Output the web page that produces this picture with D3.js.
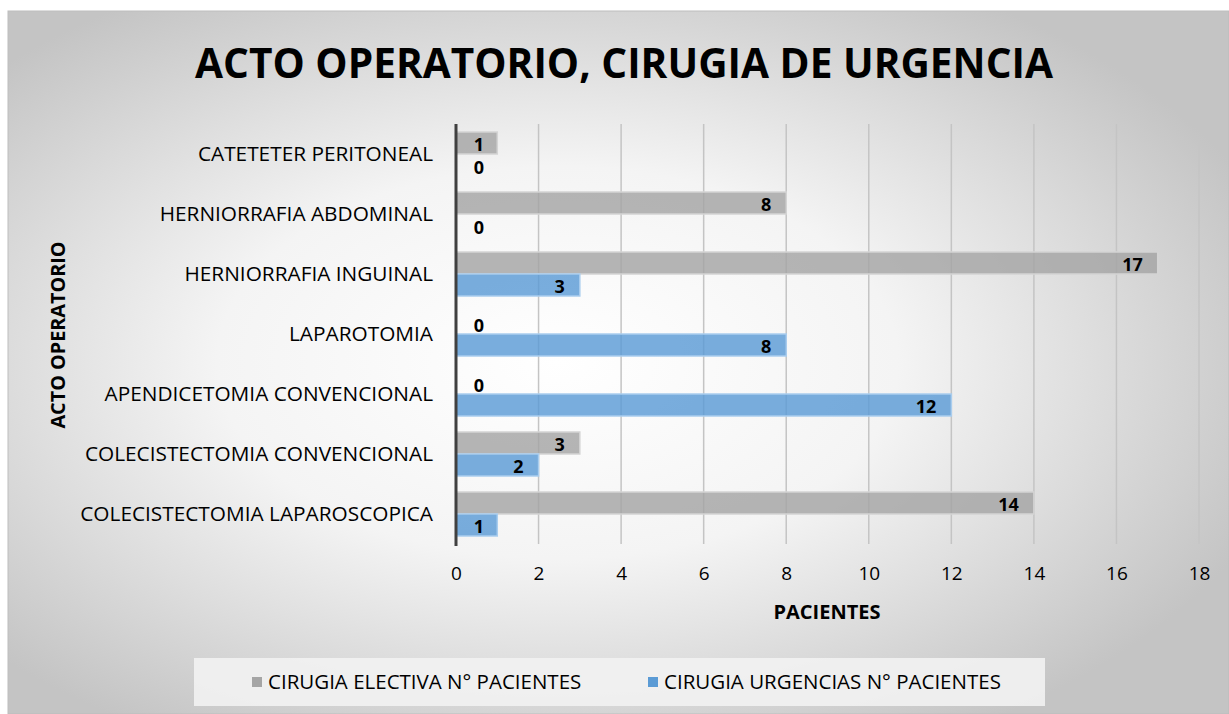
<!DOCTYPE html>
<html>
<head>
<meta charset="utf-8">
<script src="https://cdn.jsdelivr.net/npm/d3@7"></script>
<style>
  body { margin: 0; background: #fff; }
  svg { display: block; font-family: "Open Sans", "Noto Sans", sans-serif; }
</style>
</head>
<body>
<div id="chart"></div>
<script>
// data
var categories = [
  "CATETETER PERITONEAL",
  "HERNIORRAFIA ABDOMINAL",
  "HERNIORRAFIA INGUINAL",
  "LAPAROTOMIA",
  "APENDICETOMIA CONVENCIONAL",
  "COLECISTECTOMIA CONVENCIONAL",
  "COLECISTECTOMIA LAPAROSCOPICA"
];
var electiva  = [1, 8, 17, 0, 0, 3, 14];
var urgencias = [0, 0, 3, 8, 12, 2, 1];
var seriesNames = ["CIRUGIA ELECTIVA N° PACIENTES", "CIRUGIA URGENCIAS N° PACIENTES"];
var xTicks = [0, 2, 4, 6, 8, 10, 12, 14, 16, 18];

var W = 1229, H = 714;
var colors = ["#a5a5a5", "#5b9bd5"];

var svg = d3.select("#chart").append("svg")
    .attr("width", W).attr("height", H);

var defs = svg.append("defs");
var grad = defs.append("radialGradient").attr("id", "bg")
    .attr("cx", "45%").attr("cy", "50%").attr("r", "62%");
grad.append("stop").attr("offset", "0%").attr("stop-color", "#ffffff");
grad.append("stop").attr("offset", "45%").attr("stop-color", "#f4f4f4");
grad.append("stop").attr("offset", "100%").attr("stop-color", "#c4c4c4");

// chart background
svg.append("rect")
    .attr("x", 8).attr("y", 11).attr("width", W - 8).attr("height", H - 11)
    .attr("fill", "url(#bg)")
    .attr("stroke", "#bdbdbd").attr("stroke-width", 1);

// title
svg.append("text")
    .attr("x", 624).attr("y", 78)
    .attr("text-anchor", "middle")
    .attr("font-size", 42).attr("font-weight", "bold")
    .attr("textLength", 858).attr("lengthAdjust", "spacingAndGlyphs")
    .attr("fill", "#000")
    .text("ACTO OPERATORIO, CIRUGIA DE URGENCIA");

var x = d3.scaleLinear().domain([0, 18]).range([456, 1199]);
var y = d3.scaleBand().domain(categories).range([124, 544]);
var ySub = d3.scaleBand().domain([0, 1]).range([8, 52]);

// gridlines
svg.append("g").selectAll("line").data(xTicks.slice(1)).enter().append("line")
    .attr("x1", d => x(d)).attr("x2", d => x(d))
    .attr("y1", 124).attr("y2", 544)
    .attr("stroke", "#c4c4c4").attr("stroke-width", 1.5);

// bars
var rows = categories.map(function(c, i) {
  return {cat: c, vals: [electiva[i], urgencias[i]]};
});

var groups = svg.append("g").selectAll("g").data(rows).enter().append("g")
    .attr("transform", d => "translate(0," + y(d.cat) + ")");

groups.selectAll("rect").data(d => d.vals.map((v, k) => ({v: v, k: k}))).enter()
  .append("rect")
    .attr("x", x(0))
    .attr("y", d => ySub(d.k))
    .attr("width", d => x(d.v) - x(0))
    .attr("height", ySub.bandwidth())
    .attr("fill", d => colors[d.k])
    .attr("fill-opacity", 0.82)
    .attr("stroke", d => d.k == 0 ? "#d4d4d4" : "#a9cdee")
    .attr("stroke-width", d => d.v > 0 ? 1.5 : 0);

// value labels (inside end; zeros sit just right of the axis)
groups.selectAll("text").data(d => d.vals.map((v, k) => ({v: v, k: k}))).enter()
  .append("text")
    .attr("x", d => Math.max(x(d.v) - 15, x(0) + 28))
    .attr("y", d => ySub(d.k) + ySub.bandwidth() / 2 + (d.v == 0 ? 3 : 1.5))
    .attr("dy", "0.35em")
    .attr("text-anchor", "end")
    .attr("font-size", 18).attr("font-weight", "bold")
    .attr("fill", "#000")
    .text(d => d.v);

// y axis line
svg.append("line")
    .attr("x1", x(0)).attr("x2", x(0))
    .attr("y1", 124).attr("y2", 546)
    .attr("stroke", "#404040").attr("stroke-width", 3);

// category labels
svg.append("g").selectAll("text").data(categories).enter().append("text")
    .attr("x", 433)
    .attr("y", d => y(d) + y.bandwidth() / 2)
    .attr("dy", "0.35em")
    .attr("text-anchor", "end")
    .attr("font-size", 20.8)
    .attr("fill", "#000")
    .text(d => d);

// x axis tick labels
var xAxis = d3.axisBottom(x).tickValues(xTicks).tickSize(0).tickPadding(0);
var gx = svg.append("g").attr("transform", "translate(0,566)").call(xAxis);
gx.select(".domain").remove();
gx.selectAll("text")
    .attr("font-size", 19)
    .attr("font-family", "\"Open Sans\", \"Noto Sans\", sans-serif")
    .attr("fill", "#000");

// axis titles
svg.append("text")
    .attr("x", 827).attr("y", 619)
    .attr("text-anchor", "middle")
    .attr("font-size", 20).attr("font-weight", "bold")
    .text("PACIENTES");

svg.append("text")
    .attr("transform", "translate(65,335) rotate(-90)")
    .attr("text-anchor", "middle")
    .attr("font-size", 19.8).attr("font-weight", "bold")
    .text("ACTO OPERATORIO");

// legend
svg.append("rect")
    .attr("x", 194).attr("y", 658).attr("width", 851).attr("height", 48)
    .attr("fill", "#f2f2f2").attr("fill-opacity", 0.9);

var legendX = [252, 648];
var leg = svg.append("g").selectAll("g").data(seriesNames).enter().append("g")
    .attr("transform", (d, i) => "translate(" + legendX[i] + ",682)");
leg.append("rect")
    .attr("x", 0).attr("y", -5).attr("width", 10).attr("height", 10)
    .attr("fill", (d, i) => colors[i]);
leg.append("text")
    .attr("x", 16).attr("dy", "0.35em")
    .attr("font-size", 20.5)
    .attr("fill", "#000")
    .text(d => d);
</script>
</body>
</html>
